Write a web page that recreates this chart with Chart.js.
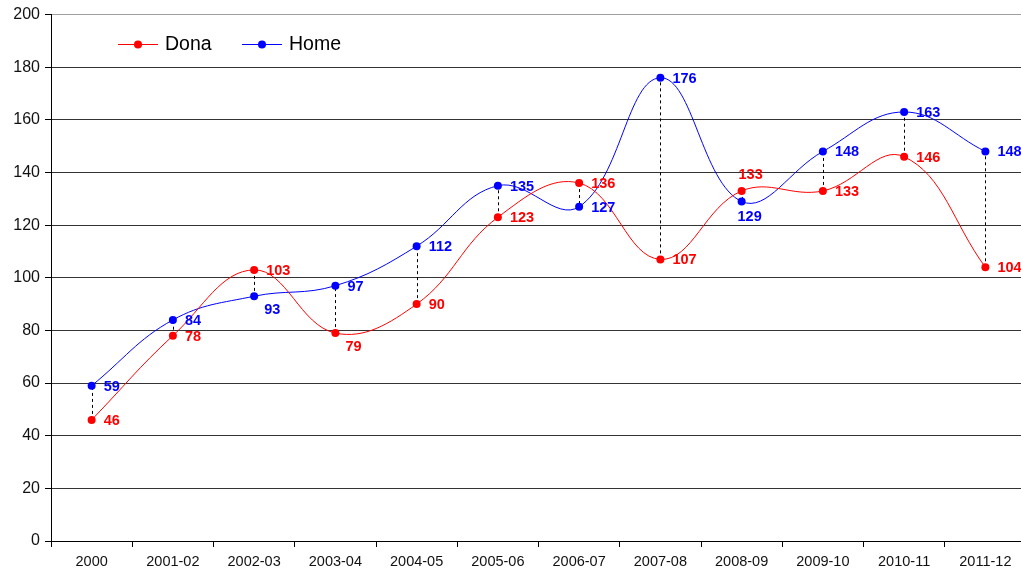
<!DOCTYPE html>
<html>
<head>
<meta charset="utf-8">
<script src="https://cdn.jsdelivr.net/npm/chart.js@4.4.1/dist/chart.umd.min.js"></script>
<style>
  html, body { margin: 0; padding: 0; background: #fff; overflow: hidden; }
  #wrap { width: 1030px; height: 573px; }
</style>
</head>
<body>
<div id="wrap"><canvas id="chart" width="1030" height="573"></canvas></div>
<script>
// Data
const seasons = ['2000', '2001-02', '2002-03', '2003-04', '2004-05', '2005-06',
  '2006-07', '2007-08', '2008-09', '2009-10', '2010-11', '2011-12'];
const dona = [46, 78, 103, 79, 90, 123, 136, 107, 133, 133, 146, 104];
const home = [59, 84, 93, 97, 112, 135, 127, 176, 129, 148, 163, 148];

// Where each value label sits relative to its point
const donaLabelPlace = ['right', 'right', 'right', 'belowRight', 'right', 'right',
  'right', 'right', 'above', 'right', 'right', 'right'];
const homeLabelPlace = ['right', 'right', 'belowRight', 'right', 'right', 'right',
  'right', 'right', 'below', 'right', 'right', 'right'];

const Y_MIN = 0;
const Y_MAX = 200;
const Y_STEP = 20;

const FONT = '"Liberation Sans", Arial, sans-serif';
const RED = '#ff0000';
const BLUE = '#0000ff';

/**
 * Dashed black drop lines joining the two series at each category
 */
const dropLines = {
  id: 'dropLines',
  beforeDatasetsDraw(chart) {
    const a = chart.getDatasetMeta(0).data;
    const b = chart.getDatasetMeta(1).data;
    const ctx = chart.ctx;
    ctx.save();
    ctx.strokeStyle = '#000';
    ctx.lineWidth = 1;
    ctx.setLineDash([3, 3]);
    for (let i = 0; i < a.length; i++) {
      const x = Math.round(a[i].x) + 0.5;
      ctx.beginPath();
      ctx.moveTo(x, a[i].y);
      ctx.lineTo(x, b[i].y);
      ctx.stroke();
    }
    ctx.restore();
  }
};

/**
 * Bold value labels next to each point
 */
const valueLabels = {
  id: 'valueLabels',
  afterDatasetsDraw(chart) {
    const ctx = chart.ctx;
    const places = [donaLabelPlace, homeLabelPlace];
    ctx.save();
    ctx.font = 'bold 14.5px ' + FONT;
    chart.data.datasets.forEach((ds, di) => {
      ctx.fillStyle = ds.borderColor;
      chart.getDatasetMeta(di).data.forEach((pt, i) => {
        const text = String(ds.data[i]);
        const place = places[di][i];
        ctx.textBaseline = 'middle';
        if (place === 'right') {
          ctx.textAlign = 'left';
          ctx.fillText(text, pt.x + 12, pt.y + 1);
        } else if (place === 'belowRight') {
          ctx.textAlign = 'left';
          ctx.fillText(text, pt.x + 10, pt.y + 14);
        } else if (place === 'below') {
          ctx.textAlign = 'center';
          ctx.fillText(text, pt.x + 8, pt.y + 16);
        } else {
          ctx.textAlign = 'center';
          ctx.fillText(text, pt.x + 9, pt.y - 16);
        }
      });
    });
    ctx.restore();
  }
};

/**
 * Legend drawn inside the plot, top left
 */
const innerLegend = {
  id: 'innerLegend',
  afterDraw(chart) {
    const ctx = chart.ctx;
    let x = 118;
    const y = 44;
    ctx.save();
    ctx.font = '19.5px ' + FONT;
    ctx.textBaseline = 'middle';
    ctx.textAlign = 'left';
    chart.data.datasets.forEach(ds => {
      ctx.strokeStyle = ds.borderColor;
      ctx.lineWidth = 1;
      ctx.beginPath();
      ctx.moveTo(x, y + 0.5);
      ctx.lineTo(x + 40, y + 0.5);
      ctx.stroke();
      ctx.fillStyle = ds.borderColor;
      ctx.beginPath();
      ctx.arc(x + 20, y + 0.5, 4, 0, Math.PI * 2);
      ctx.fill();
      ctx.fillStyle = '#000';
      ctx.fillText(ds.label, x + 47, y + 1);
      x += 124;
    });
    ctx.restore();
  }
};

function series(label, data, color) {
  return {
    label,
    data,
    borderColor: color,
    backgroundColor: color,
    borderWidth: 1,
    pointRadius: 4,
    pointHoverRadius: 4,
    pointBorderWidth: 0,
    tension: 0.4,
    fill: false
  };
}

new Chart(document.getElementById('chart'), {
  type: 'line',
  data: {
    labels: seasons,
    datasets: [series('Dona', dona, RED), series('Home', home, BLUE)]
  },
  options: {
    responsive: false,
    animation: false,
    events: [],
    layout: { padding: { top: 14, right: 2, left: 0, bottom: 0 } },
    plugins: {
      legend: { display: false },
      tooltip: { enabled: false }
    },
    scales: {
      x: {
        offset: true,
        afterFit(scale) { scale.height = 32; },
        border: { color: '#000', width: 1 },
        grid: {
          offset: true,
          drawOnChartArea: false,
          tickLength: 6,
          tickColor: '#000'
        },
        ticks: {
          color: '#111',
          padding: 6,
          maxRotation: 0,
          autoSkip: false,
          font: { family: FONT, size: 14.5 }
        }
      },
      y: {
        min: Y_MIN,
        max: Y_MAX,
        afterFit(scale) { scale.width = 51; },
        border: { color: '#000', width: 1 },
        grid: {
          color: ctx => (ctx.tick && ctx.tick.value === Y_MAX ? '#a0a0a0' : '#333'),
          tickLength: 6,
          tickColor: '#000'
        },
        ticks: {
          stepSize: Y_STEP,
          color: '#111',
          padding: 5,
          font: { family: FONT, size: 16 }
        }
      }
    }
  },
  plugins: [dropLines, valueLabels, innerLegend]
});
</script>
</body>
</html>
